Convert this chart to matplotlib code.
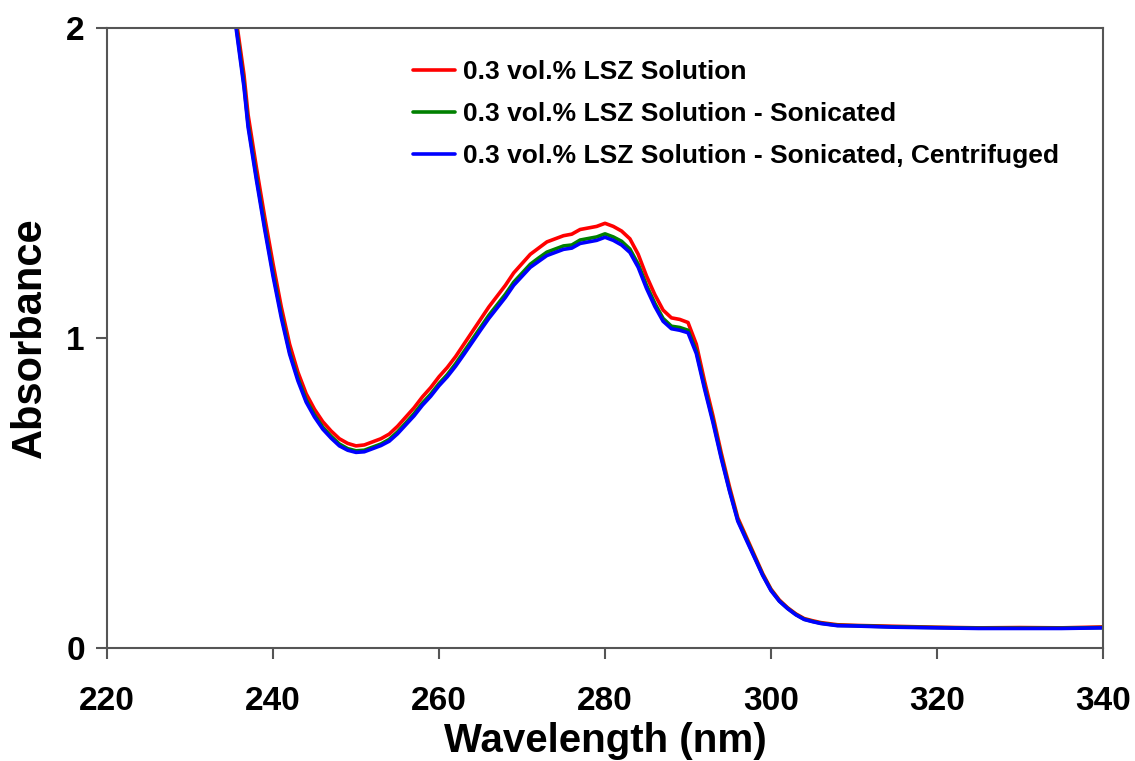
import matplotlib
matplotlib.use("Agg")
import matplotlib.pyplot as plt

plt.rcParams['font.family'] = ['Liberation Sans', 'DejaVu Sans']
plt.rcParams['font.weight'] = 'bold'

wavelength = [235.5, 236.5, 237.0, 238.0, 239.0, 240.0, 241.0, 242.0, 243.0, 244.0,
              245.0, 246.0, 247.0, 248.0, 249.0, 250.0, 251.0, 252.0, 253.0, 254.0,
              255.0, 256.0, 257.0, 258.0, 259.0, 260.0, 261.0, 262.0, 263.0, 264.0,
              265.0, 266.0, 267.0, 268.0, 269.0, 270.0, 271.0, 272.0, 273.0, 274.0,
              275.0, 276.0, 277.0, 278.0, 279.0, 280.0, 281.0, 282.0, 283.0, 284.0,
              285.0, 286.0, 287.0, 288.0, 289.0, 290.0, 291.0, 292.0, 293.0, 294.0,
              295.0, 296.0, 297.0, 298.0, 299.0, 300.0, 301.0, 302.0, 303.0, 304.0,
              305.0, 306.0, 308.0, 310.0, 315.0, 320.0, 325.0, 330.0, 335.0, 340.0]

abs_solution = [2.04, 1.85, 1.72, 1.55, 1.39, 1.24, 1.10, 0.98, 0.89, 0.82,
                0.77, 0.73, 0.70, 0.675, 0.66, 0.652, 0.655, 0.665, 0.675, 0.69,
                0.715, 0.745, 0.775, 0.81, 0.84, 0.875, 0.905, 0.94, 0.98, 1.02,
                1.06, 1.10, 1.135, 1.17, 1.21, 1.24, 1.27, 1.29, 1.31, 1.32,
                1.33, 1.335, 1.35, 1.355, 1.36, 1.37, 1.36, 1.345, 1.32, 1.27,
                1.20, 1.14, 1.09, 1.065, 1.06, 1.05, 0.98, 0.86, 0.75, 0.63,
                0.52, 0.42, 0.36, 0.30, 0.24, 0.19, 0.155, 0.13, 0.11, 0.095,
                0.088, 0.082, 0.075, 0.073, 0.070, 0.067, 0.065, 0.066, 0.065, 0.068]

abs_sonicated = [2.02, 1.82, 1.69, 1.52, 1.36, 1.21, 1.075, 0.955, 0.87, 0.80,
                 0.752, 0.712, 0.683, 0.658, 0.643, 0.636, 0.638, 0.648, 0.658, 0.673,
                 0.697, 0.726, 0.756, 0.79, 0.819, 0.853, 0.882, 0.917, 0.956, 0.995,
                 1.034, 1.073, 1.107, 1.141, 1.18, 1.209, 1.238, 1.258, 1.277, 1.287,
                 1.297, 1.30, 1.316, 1.321, 1.326, 1.336, 1.326, 1.312, 1.287, 1.238,
                 1.17, 1.112, 1.063, 1.038, 1.034, 1.025, 0.958, 0.842, 0.735, 0.618,
                 0.51, 0.413, 0.354, 0.295, 0.236, 0.187, 0.152, 0.128, 0.108, 0.093,
                 0.086, 0.080, 0.073, 0.072, 0.068, 0.066, 0.064, 0.064, 0.064, 0.066]

abs_centrifuged = [2.01, 1.81, 1.68, 1.51, 1.35, 1.20, 1.065, 0.948, 0.862, 0.793,
                   0.745, 0.706, 0.677, 0.652, 0.638, 0.631, 0.633, 0.643, 0.653, 0.667,
                   0.691, 0.72, 0.749, 0.783, 0.812, 0.846, 0.875, 0.909, 0.947, 0.986,
                   1.025, 1.063, 1.097, 1.131, 1.17, 1.199, 1.228, 1.247, 1.266, 1.276,
                   1.286, 1.29, 1.305, 1.31, 1.315, 1.325, 1.315, 1.30, 1.276, 1.228,
                   1.16, 1.102, 1.054, 1.03, 1.025, 1.017, 0.95, 0.835, 0.728, 0.612,
                   0.506, 0.409, 0.35, 0.292, 0.234, 0.185, 0.151, 0.127, 0.107, 0.092,
                   0.085, 0.079, 0.072, 0.071, 0.067, 0.065, 0.063, 0.063, 0.063, 0.065]

labels = ["0.3 vol.% LSZ Solution",
          "0.3 vol.% LSZ Solution - Sonicated",
          "0.3 vol.% LSZ Solution - Sonicated, Centrifuged"]
colors = ["#ff0000", "#008000", "#0000ff"]

x_ticks = [220, 240, 260, 280, 300, 320, 340]
y_ticks = [0, 1, 2]

fig = plt.figure(figsize=(11.35, 7.61), dpi=100)
ax = fig.add_axes([107/1135, 1-648/761, (1103-107)/1135, (648-28)/761])

for y, c, lab in zip([abs_solution, abs_sonicated, abs_centrifuged], colors, labels):
    ax.plot(wavelength, y, color=c, lw=2.6, label=lab, solid_capstyle='round',
            solid_joinstyle='round')

ax.set_xlim(220, 340)
ax.set_ylim(0, 2)
ax.set_xticks(x_ticks)
ax.set_yticks(y_ticks)
ax.tick_params(direction='out', length=8, width=1.5, color='#555555',
               labelsize=24, pad=8)
ax.tick_params(axis='x', pad=19)
for lbl in ax.get_xticklabels() + ax.get_yticklabels():
    lbl.set_fontweight('bold')
for s in ax.spines.values():
    s.set_color('#555555')
    s.set_linewidth(1.5)

ax.set_xlabel("Wavelength (nm)", fontsize=29, fontweight='bold', labelpad=4)
ax.set_ylabel("Absorbance", fontsize=30, fontweight='bold', labelpad=12)

leg = ax.legend(loc='upper left', bbox_to_anchor=(413/1135, 1-60/761),
                bbox_transform=fig.transFigure, frameon=False,
                prop={'size': 19, 'weight': 'bold'}, handlelength=1.6,
                handletextpad=0.3, labelspacing=0.68, borderpad=0, borderaxespad=0)
for line in leg.get_lines():
    line.set_linewidth(2.6)

fig.savefig("out.png", dpi=100)
